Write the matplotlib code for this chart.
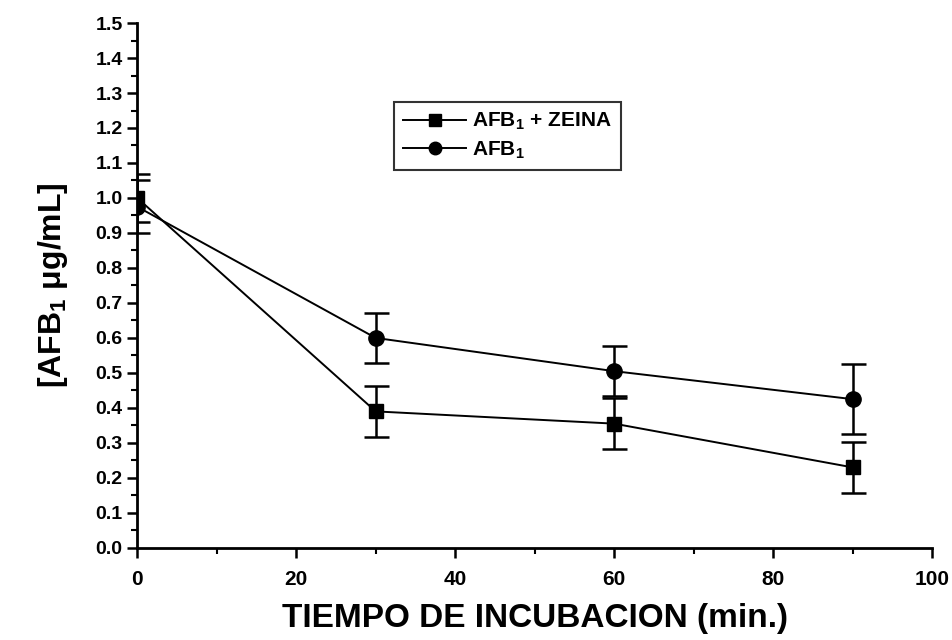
import numpy as np
import matplotlib
matplotlib.use("Agg")
import matplotlib.pyplot as plt
from matplotlib.ticker import MultipleLocator, FormatStrFormatter
from matplotlib.lines import Line2D

plt.rcParams['font.family'] = ['Liberation Sans', 'DejaVu Sans']
plt.rcParams['font.weight'] = 'bold'
plt.rcParams['mathtext.fontset'] = 'custom'
plt.rcParams['mathtext.rm'] = 'Liberation Sans:bold'
plt.rcParams['mathtext.bf'] = 'Liberation Sans:bold'
plt.rcParams['mathtext.it'] = 'Liberation Sans:bold'

# data
tiempo = [0, 30, 60, 90]
zeina = [1.00, 0.39, 0.355, 0.23]
zeina_err = [0.068, 0.072, 0.072, 0.073]
afb1 = [0.975, 0.60, 0.505, 0.425]
afb1_err = [0.075, 0.072, 0.072, 0.10]

label_zeina = r"AFB$_1$ + ZEINA"
label_afb1 = r"AFB$_1$"

fig = plt.figure(figsize=(9.53, 6.4), dpi=100)
ax = fig.add_axes([0.144, 0.144, 0.834, 0.82])

ax.errorbar(tiempo, zeina, yerr=zeina_err, color='black', marker='s', ms=10,
            lw=1.4, elinewidth=1.8, capsize=9, capthick=1.8)
ax.errorbar(tiempo, afb1, yerr=afb1_err, color='black', marker='o', ms=11,
            lw=1.4, elinewidth=1.8, capsize=9, capthick=1.8)

ax.set_xlim(0, 100)
ax.set_ylim(0, 1.5)
ax.xaxis.set_major_locator(MultipleLocator(20))
ax.xaxis.set_minor_locator(MultipleLocator(10))
ax.yaxis.set_major_locator(MultipleLocator(0.1))
ax.yaxis.set_minor_locator(MultipleLocator(0.05))
ax.yaxis.set_major_formatter(FormatStrFormatter('%.1f'))

for s in ['top', 'right']:
    ax.spines[s].set_visible(False)
for s in ['left', 'bottom']:
    ax.spines[s].set_linewidth(2)

ax.tick_params(which='major', direction='out', length=7, width=1.8, labelsize=14)
ax.tick_params(which='minor', direction='out', length=4, width=1.5)
ax.tick_params(axis='x', pad=9, labelsize=15)

ax.set_xlabel("TIEMPO DE INCUBACION (min.)", fontsize=24, fontweight='bold', labelpad=10)
ax.set_ylabel(r"[AFB$_1$ μg/mL]", fontsize=23, fontweight='bold', labelpad=18)

handles = [
    Line2D([], [], color='black', marker='s', ms=8, lw=1.4),
    Line2D([], [], color='black', marker='o', ms=9, lw=1.4),
]
leg = ax.legend(handles, [label_zeina, label_afb1], loc='upper left',
                bbox_to_anchor=(0.31, 0.87), fontsize=15,
                frameon=True, fancybox=False, edgecolor='black',
                handlelength=3, handletextpad=0.3, borderpad=0.45,
                labelspacing=0.35)
leg.get_frame().set_linewidth(1.5)

fig.savefig("out.png", dpi=100)
